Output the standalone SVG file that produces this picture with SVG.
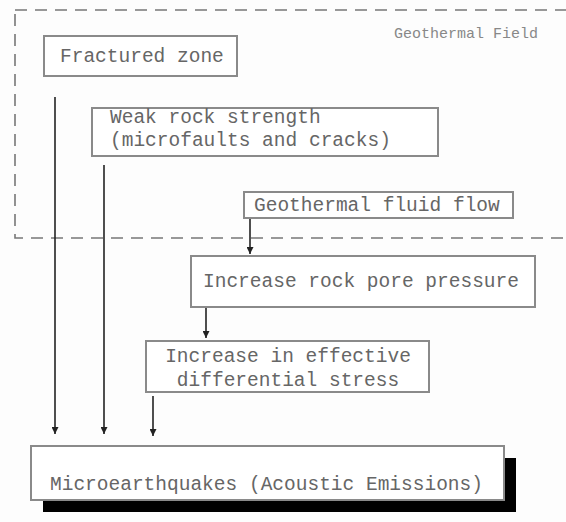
<svg xmlns="http://www.w3.org/2000/svg" width="566" height="522" viewBox="0 0 566 522">
<defs>
<marker id="ah" markerWidth="8" markerHeight="8" refX="4" refY="7" orient="auto" markerUnits="userSpaceOnUse">
<path d="M0,0 L8,0 L4,8 Z" fill="#222" transform="rotate(-90 4 4)"/>
</marker>
<marker id="arr" viewBox="0 0 10 10" refX="10" refY="5" markerWidth="9" markerHeight="7" orient="auto" markerUnits="userSpaceOnUse">
<path d="M0,0 L10,5 L0,10 Z" fill="#222"/>
</marker>
</defs>
<style>
.box{fill:#fff;stroke:#8a8a8a;stroke-width:2}
.t{font-family:"Liberation Mono","Courier New",monospace;font-size:19.5px;fill:#666}
.c{stroke:#222;stroke-width:1.6;fill:none;marker-end:url(#arr)}
</style>
<rect width="566" height="522" fill="#fdfdfd"/>
<g id="field">
<rect x="15" y="10" width="560" height="228" fill="none" stroke="#777" stroke-width="1.6" stroke-dasharray="12,8"/>
<text x="394" y="38" style="font-family:'Liberation Mono','Courier New',monospace;font-size:15px;fill:#888">Geothermal Field</text>
</g>
<g id="fractured">
<rect class="box" x="44" y="36" width="193" height="40"/>
<text class="t" x="60" y="62">Fractured zone</text>
</g>
<g id="weak">
<rect class="box" x="92" y="108" width="346" height="48"/>
<text class="t" x="110" y="123">Weak rock strength</text>
<text class="t" x="110" y="146">(microfaults and cracks)</text>
</g>
<g id="fluid">
<rect class="box" x="244" y="192" width="269" height="26"/>
<text class="t" x="254" y="211">Geothermal fluid flow</text>
</g>
<g id="pore">
<rect class="box" x="191" y="256" width="344" height="51"/>
<text class="t" x="203" y="287">Increase rock pore pressure</text>
</g>
<g id="stress">
<rect class="box" x="146" y="341" width="283" height="51"/>
<text class="t" x="288" y="362" text-anchor="middle">Increase in effective</text>
<text class="t" x="288" y="386" text-anchor="middle">differential stress</text>
</g>
<g id="micro">
<rect x="43" y="458" width="473" height="54" fill="#000"/>
<rect class="box" x="31" y="446" width="473" height="54"/>
<text class="t" x="50" y="490">Microearthquakes (Acoustic Emissions)</text>
</g>
<g id="connectors">
<line class="c" x1="55" y1="97" x2="55" y2="434"/>
<line class="c" x1="104" y1="165" x2="104" y2="434"/>
<line class="c" x1="250" y1="219" x2="250" y2="254"/>
<line class="c" x1="206" y1="308" x2="206" y2="338"/>
<line class="c" x1="153" y1="396" x2="153" y2="436"/>
</g>
</svg>
